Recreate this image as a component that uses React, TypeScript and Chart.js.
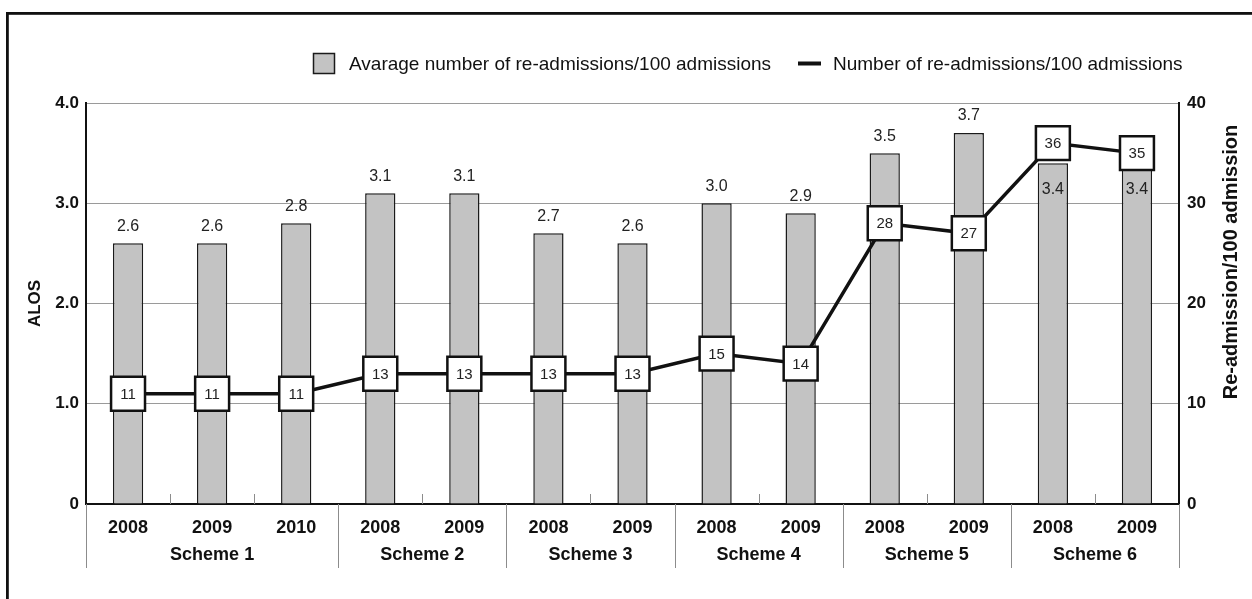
import { useEffect, useRef } from "react";
import { Chart, registerables } from "chart.js";

Chart.register(...registerables);

// ---- data ----
const years = ["2008", "2009", "2010", "2008", "2009", "2008", "2009", "2008", "2009", "2008", "2009", "2008", "2009"];
const schemeNames = ["Scheme 1", "Scheme 2", "Scheme 3", "Scheme 4", "Scheme 5", "Scheme 6"];
const schemeSizes = [3, 2, 2, 2, 2, 2];
const alosValues = [2.6, 2.6, 2.8, 3.1, 3.1, 2.7, 2.6, 3.0, 2.9, 3.5, 3.7, 3.4, 3.4];
const readmissionValues = [11, 11, 11, 13, 13, 13, 13, 15, 14, 28, 27, 36, 35];
const alosTickStep = 1;
const readmissionTickStep = 10;

const barLabel = "Avarage number of re-admissions/100 admissions";
const lineLabel = "Number of re-admissions/100 admissions";
const leftTitle = "ALOS";
const rightTitle = "Re-admission/100 admission";

// ---- styles ----
const FONT = "'Liberation Sans', Arial, Helvetica, sans-serif";
const INK = "#111111";
const BAR_FILL = "#c3c3c3";
const GRID = "#9a9a9a";
const SEPARATOR = "#8c8c8c";

// Thick frame around the figure (top and left edges visible)
const framePlugin = {
  id: "frame",
  beforeDraw(chart: any) {
    const { ctx, width, height } = chart;
    ctx.save();
    ctx.fillStyle = "#ffffff";
    ctx.fillRect(0, 0, width, height);
    ctx.fillStyle = INK;
    ctx.fillRect(6, 12, width - 6, 2.8);
    ctx.fillRect(6, 12, 2.8, height - 12);
    ctx.restore();
  },
};

// Legend row above the plot
const legendPlugin = {
  id: "topLegend",
  afterDraw(chart: any) {
    const { ctx } = chart;
    const bar = chart.data.datasets.find((d: any) => d.type === "bar");
    const line = chart.data.datasets.find((d: any) => d.type === "line");
    ctx.save();
    ctx.font = `19px ${FONT}`;
    ctx.textBaseline = "alphabetic";
    ctx.textAlign = "left";

    // bar swatch
    ctx.fillStyle = bar.backgroundColor;
    ctx.fillRect(313.5, 53.5, 21, 20);
    ctx.strokeStyle = bar.borderColor;
    ctx.lineWidth = 1.5;
    ctx.strokeRect(313.5, 53.5, 21, 20);
    ctx.fillStyle = INK;
    ctx.fillText(bar.label, 349, 70);

    // line swatch
    ctx.strokeStyle = line.borderColor;
    ctx.lineWidth = 4;
    ctx.beginPath();
    ctx.moveTo(798, 63.5);
    ctx.lineTo(821, 63.5);
    ctx.stroke();
    ctx.fillText(line.label, 833, 70);
    ctx.restore();
  },
};

// Two-level category axis: inner ticks, scheme separators and scheme names
const schemeAxisPlugin = {
  id: "schemeAxis",
  afterDraw(chart: any) {
    const { ctx } = chart;
    const x = chart.scales.x;
    const bottom = chart.chartArea.bottom;
    const step = x.getPixelForValue(1) - x.getPixelForValue(0);
    const edge = (i: number) => x.getPixelForValue(i) - step / 2;

    ctx.save();
    ctx.strokeStyle = SEPARATOR;
    ctx.lineWidth = 1;
    ctx.fillStyle = INK;
    ctx.font = `bold 18px ${FONT}`;
    ctx.textAlign = "center";
    ctx.textBaseline = "middle";

    let start = 0;
    schemeSizes.forEach((size, s) => {
      const left = edge(start);
      const right = edge(start + size);
      // separators below the axis
      [left, right].forEach((px) => {
        const p = Math.round(px) + 0.5;
        ctx.beginPath();
        ctx.moveTo(p, bottom);
        ctx.lineTo(p, bottom + 64);
        ctx.stroke();
      });
      // short ticks between years of the same scheme
      for (let k = 1; k < size; k++) {
        const p = Math.round(edge(start + k)) + 0.5;
        ctx.beginPath();
        ctx.moveTo(p, bottom - 10);
        ctx.lineTo(p, bottom);
        ctx.stroke();
      }
      ctx.fillText(schemeNames[s], (left + right) / 2, bottom + 51);
      start += size;
    });
    ctx.restore();
  },
};

// Value labels: above bars (or inside when a marker sits there) and inside line markers
const valueLabelPlugin = {
  id: "valueLabels",
  afterDatasetsDraw(chart: any) {
    const { ctx } = chart;
    const barIndex = chart.data.datasets.findIndex((d: any) => d.type === "bar");
    const lineIndex = chart.data.datasets.findIndex((d: any) => d.type === "line");
    const barMeta = chart.getDatasetMeta(barIndex);
    const lineMeta = chart.getDatasetMeta(lineIndex);
    const barData = chart.data.datasets[barIndex].data;
    const lineData = chart.data.datasets[lineIndex].data;

    ctx.save();
    ctx.textAlign = "center";
    ctx.textBaseline = "middle";
    ctx.fillStyle = "#222222";
    ctx.font = `16px ${FONT}`;

    barMeta.data.forEach((el: any, i: number) => {
      const above = el.y - 17;
      const point = lineMeta.data[i];
      const hidden = point && Math.abs(point.y - above) < 28;
      const y = hidden ? el.y + 26 : above;
      ctx.fillText(Number(barData[i]).toFixed(1), el.x, y);
    });

    ctx.font = `15px ${FONT}`;
    lineMeta.data.forEach((el: any, i: number) => {
      ctx.fillText(String(lineData[i]), el.x, el.y + 1);
    });
    ctx.restore();
  },
};

// Right-hand axis title, reading bottom to top
const rightTitlePlugin = {
  id: "rightTitle",
  afterDraw(chart: any) {
    const { ctx } = chart;
    const scale = chart.scales.y2;
    ctx.save();
    ctx.translate(scale.right - 21, 262);
    ctx.rotate(-Math.PI / 2);
    ctx.font = `bold 20px ${FONT}`;
    ctx.fillStyle = INK;
    ctx.textAlign = "center";
    ctx.textBaseline = "middle";
    ctx.fillText(rightTitle, 0, 0);
    ctx.restore();
  },
};

export default function App() {
  const canvasRef = useRef<HTMLCanvasElement | null>(null);

  useEffect(() => {
    if (!canvasRef.current) return;
    Chart.defaults.font.family = FONT;
    Chart.defaults.color = INK;

    const chart = new Chart(canvasRef.current, {
      type: "bar",
      data: {
        labels: years,
        datasets: [
          {
            type: "line",
            label: lineLabel,
            data: readmissionValues,
            yAxisID: "y2",
            borderColor: INK,
            borderWidth: 3.5,
            tension: 0,
            pointStyle: "rect",
            pointRadius: 24,
            pointHoverRadius: 24,
            pointBackgroundColor: "#ffffff",
            pointBorderColor: INK,
            pointBorderWidth: 2.5,
            clip: false,
            order: 0,
          } as any,
          {
            type: "bar",
            label: barLabel,
            data: alosValues,
            yAxisID: "y",
            backgroundColor: BAR_FILL,
            borderColor: "#1a1a1a",
            borderWidth: 1.5,
            barPercentage: 0.36,
            categoryPercentage: 1,
            order: 1,
          } as any,
        ],
      },
      options: {
        responsive: false,
        animation: false,
        events: [],
        layout: { padding: { top: 103, left: 0, right: 0, bottom: 0 } },
        plugins: {
          legend: { display: false },
          tooltip: { enabled: false },
        },
        scales: {
          x: {
            type: "category",
            offset: true,
            grid: { display: false, drawTicks: false },
            border: { display: true, color: INK, width: 2 },
            ticks: {
              font: { size: 18, weight: "bold" },
              color: INK,
              padding: 13,
              maxRotation: 0,
              autoSkip: false,
            },
            afterFit: (s: any) => {
              s.height = 95;
            },
          },
          y: {
            position: "left",
            min: 0,
            max: 4,
            ticks: {
              stepSize: alosTickStep,
              callback: (v: any) => (Number(v) === 0 ? "0" : Number(v).toFixed(1)),
              font: { size: 17, weight: "bold" },
              color: INK,
              padding: 7,
            },
            grid: { color: GRID, lineWidth: 1, drawTicks: false },
            border: { display: true, color: INK, width: 2 },
            title: {
              display: true,
              text: leftTitle,
              font: { size: 17, weight: "bold" },
              color: INK,
              padding: { top: 25, bottom: 0 },
            },
            afterFit: (s: any) => {
              s.width = 86;
            },
          },
          y2: {
            position: "right",
            min: 0,
            max: 40,
            ticks: {
              stepSize: readmissionTickStep,
              font: { size: 17, weight: "bold" },
              color: INK,
              padding: 8,
            },
            grid: { display: false, drawTicks: false },
            border: { display: true, color: INK, width: 2 },
            afterFit: (s: any) => {
              s.width = 73;
            },
          },
        },
      } as any,
      plugins: [framePlugin, legendPlugin, schemeAxisPlugin, valueLabelPlugin, rightTitlePlugin],
    });

    return () => chart.destroy();
  }, []);

  return (
    <div style={{ position: "absolute", left: 0, top: 0, width: 1252, height: 599 }}>
      <canvas ref={canvasRef} width={1252} height={599} style={{ display: "block" }} />
    </div>
  );
}
